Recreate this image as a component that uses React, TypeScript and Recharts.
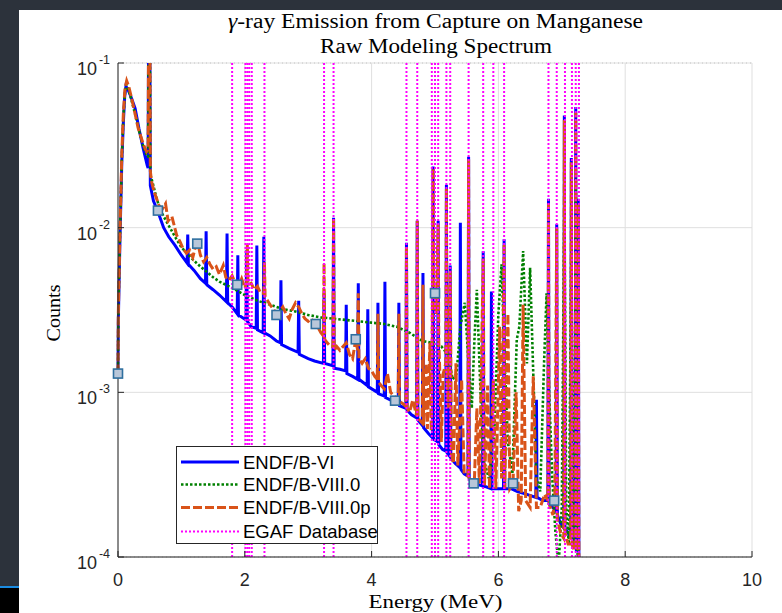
import { ComposedChart, Line, XAxis, YAxis, CartesianGrid, ReferenceLine } from "recharts";

// Energy (MeV), counts
const endf6: [number, number][] = [
  [0, 1.3e-3], [0.005, 2.7e-3], [0.03, 8.2e-3], [0.06, 2.5e-2], [0.085, 4.4e-2], [0.105, 6.2e-2],
  [0.125, 7.2e-2], [0.15, 7.0e-2], [0.2, 6.3e-2], [0.27, 5.3e-2], [0.33, 4.0e-2], [0.4, 3.0e-2],
  [0.46, 2.4e-2], [0.475, 2.3e-2], [0.485, 0.3], [0.5, 0.3], [0.51, 1.8e-2], [0.56, 1.45e-2],
  [0.63, 1.25e-2], [0.72, 1.0e-2], [0.8, 8.8e-3], [0.9, 7.8e-3], [1.0, 6.8e-3], [1.09, 6.1e-3],
  [1.1, 9.1e-3], [1.11, 6.0e-3], [1.2, 5.5e-3], [1.3, 4.9e-3], [1.38, 4.6e-3], [1.39, 9.5e-3],
  [1.4, 4.5e-3], [1.5, 4.2e-3], [1.6, 3.9e-3], [1.71, 3.55e-3], [1.72, 9.2e-3], [1.73, 3.5e-3],
  [1.8, 3.3e-3], [1.88, 3.0e-3], [1.89, 6.8e-3], [1.9, 2.95e-3], [2.02, 2.75e-3], [2.03, 7.3e-3],
  [2.04, 2.7e-3], [2.1, 2.5e-3], [2.18, 2.45e-3], [2.19, 7.8e-3], [2.2, 2.4e-3], [2.29, 2.3e-3],
  [2.3, 8.8e-3], [2.31, 2.3e-3], [2.4, 2.2e-3], [2.5, 2.05e-3], [2.56, 2.0e-3], [2.57, 4.8e-3],
  [2.58, 1.95e-3], [2.7, 1.85e-3], [2.84, 1.75e-3], [2.85, 3.6e-3], [2.86, 1.7e-3], [3.0, 1.6e-3],
  [3.1, 1.55e-3], [3.24, 1.5e-3], [3.25, 4.0e-3], [3.26, 1.5e-3], [3.39, 1.45e-3], [3.4, 1.15e-2],
  [3.41, 1.4e-3], [3.5, 1.38e-3], [3.59, 1.35e-3], [3.6, 3.4e-3], [3.61, 1.3e-3], [3.7, 1.25e-3],
  [3.78, 1.2e-3], [3.79, 4.6e-3], [3.8, 1.2e-3], [3.93, 1.1e-3], [3.94, 3.2e-3], [3.95, 1.08e-3],
  [4.09, 1.0e-3], [4.1, 3.5e-3], [4.11, 9.8e-4], [4.2, 9.5e-4], [4.21, 4.7e-3], [4.22, 9.3e-4],
  [4.32, 8.9e-4], [4.42, 8.5e-4], [4.43, 3.5e-3], [4.44, 8.3e-4], [4.54, 8.0e-4], [4.55, 8.1e-3],
  [4.56, 7.8e-4], [4.63, 7.3e-4], [4.71, 7.0e-4], [4.72, 1.1e-2], [4.73, 6.8e-4], [4.8, 6.3e-4],
  [4.81, 5.3e-3], [4.82, 6.1e-4], [4.9, 5.6e-4], [4.96, 5.3e-4], [4.97, 2.35e-2], [4.98, 5.2e-4],
  [5.04, 5.0e-4], [5.05, 1.1e-2], [5.06, 4.8e-4], [5.12, 4.5e-4], [5.17, 4.4e-4], [5.18, 1.82e-2],
  [5.19, 4.3e-4], [5.23, 4.1e-4], [5.24, 5.9e-3], [5.25, 4.0e-4], [5.32, 3.7e-4], [5.39, 3.5e-4],
  [5.4, 1.07e-2], [5.41, 3.4e-4], [5.46, 3.2e-4], [5.52, 3.1e-4], [5.53, 2.7e-2], [5.54, 3.0e-4],
  [5.62, 2.8e-4], [5.75, 2.7e-4], [5.76, 7.2e-3], [5.77, 2.7e-4], [5.88, 2.6e-4], [5.89, 4.1e-3],
  [5.9, 2.6e-4], [6.0, 2.6e-4], [6.08, 2.6e-4], [6.09, 8.5e-3], [6.1, 2.6e-4], [6.2, 2.6e-4],
  [6.3, 2.5e-4], [6.45, 2.4e-4], [6.59, 2.3e-4], [6.6, 9.0e-4], [6.61, 2.3e-4], [6.7, 2.2e-4],
  [6.78, 2.2e-4], [6.79, 1.5e-2], [6.8, 2.1e-4], [6.86, 2.0e-4], [6.91, 1.9e-4], [6.92, 1.05e-2],
  [6.93, 1.8e-4], [6.98, 1.6e-4], [7.03, 1.5e-4], [7.04, 4.8e-2], [7.05, 1.5e-4], [7.1, 1.4e-4],
  [7.14, 1.3e-4], [7.15, 2.65e-2], [7.16, 1.3e-4], [7.19, 1.2e-4], [7.21, 1.2e-4], [7.22, 5.4e-2],
  [7.23, 1.1e-4], [7.25, 1.1e-4], [7.26, 1.5e-2], [7.27, 1.0e-4], [7.29, 3e-5],
];

const endf8: [number, number][] = [
  [0, 1.3e-3], [0.005, 2.9e-3], [0.03, 8.6e-3], [0.06, 2.6e-2], [0.085, 4.7e-2], [0.11, 6.6e-2],
  [0.13, 7.4e-2], [0.16, 7.0e-2], [0.21, 6.0e-2], [0.27, 4.9e-2], [0.33, 3.9e-2], [0.4, 3.1e-2],
  [0.46, 2.7e-2], [0.475, 2.7e-2], [0.485, 0.3], [0.5, 0.3], [0.51, 2.1e-2], [0.55, 1.85e-2],
  [0.6, 1.55e-2], [0.66, 1.3e-2], [0.72, 1.17e-2], [0.8, 1.03e-2], [0.9, 8.8e-3], [1.0, 7.6e-3],
  [1.1, 6.9e-3], [1.2, 6.3e-3], [1.3, 5.8e-3], [1.4, 5.4e-3], [1.5, 5.0e-3], [1.6, 4.7e-3],
  [1.7, 4.5e-3], [1.8, 4.3e-3], [1.9, 4.1e-3], [2.0, 3.9e-3], [2.1, 3.75e-3], [2.2, 3.6e-3],
  [2.3, 3.5e-3], [2.4, 3.4e-3], [2.5, 3.3e-3], [2.6, 3.2e-3], [2.8, 3.1e-3], [3.0, 2.95e-3],
  [3.2, 2.85e-3], [3.4, 2.8e-3], [3.6, 2.75e-3], [3.8, 2.7e-3], [4.0, 2.65e-3], [4.2, 2.6e-3],
  [4.4, 2.5e-3], [4.6, 2.3e-3], [4.8, 2.05e-3], [4.95, 2.0e-3], [5.1, 1.9e-3], [5.2, 1.7e-3],
  [5.28, 1.2e-3], [5.34, 1.3e-3], [5.4, 2.5e-3], [5.47, 3.5e-3], [5.53, 1.5e-3], [5.58, 8.0e-4],
  [5.62, 2.0e-3], [5.66, 4.2e-3], [5.71, 1.2e-3], [5.76, 4.0e-4], [5.85, 3.0e-4], [5.93, 5.0e-4],
  [6.0, 3.0e-3], [6.05, 6.0e-3], [6.1, 1.5e-3], [6.15, 5.0e-4], [6.22, 3.2e-4], [6.29, 2.1e-3],
  [6.33, 2.5e-3], [6.39, 7.2e-3], [6.45, 1.5e-3], [6.5, 5.7e-3], [6.55, 1.3e-3], [6.6, 3.0e-4],
  [6.66, 2.5e-4], [6.72, 1.5e-3], [6.76, 4.0e-3], [6.8, 1.0e-3], [6.85, 3.0e-4], [6.9, 1.4e-4],
  [6.95, 9.0e-5], [7.0, 2.0e-4], [7.04, 1.5e-2], [7.07, 2.0e-4], [7.11, 1.2e-4], [7.15, 8.0e-3],
  [7.18, 1.5e-4], [7.2, 1.2e-4], [7.22, 2.0e-2], [7.25, 1.0e-4], [7.28, 5.0e-5],
];

const endf8p: [number, number][] = [
  [0, 1.3e-3], [0.005, 3.0e-3], [0.03, 9.0e-3], [0.06, 2.8e-2], [0.085, 5.0e-2], [0.11, 7.0e-2],
  [0.137, 7.8e-2], [0.17, 7.2e-2], [0.215, 6.1e-2], [0.27, 4.9e-2], [0.32, 4.0e-2], [0.4, 3.2e-2],
  [0.45, 2.9e-2], [0.475, 3.0e-2], [0.485, 0.3], [0.5, 0.3], [0.51, 2.2e-2], [0.53, 1.9e-2],
  [0.57, 1.65e-2], [0.61, 1.5e-2], [0.65, 1.35e-2], [0.7, 1.3e-2], [0.75, 1.4e-2], [0.79, 1.1e-2],
  [0.85, 1.17e-2], [0.925, 9.0e-3], [0.98, 8.2e-3], [1.03, 7.4e-3], [1.08, 7.0e-3], [1.13, 7.3e-3],
  [1.18, 6.6e-3], [1.22, 7.6e-3], [1.26, 8.0e-3], [1.3, 6.8e-3], [1.35, 6.2e-3], [1.4, 6.6e-3],
  [1.45, 6.0e-3], [1.5, 5.6e-3], [1.55, 5.8e-3], [1.6, 5.2e-3], [1.66, 5.9e-3], [1.7, 5.0e-3],
  [1.75, 4.8e-3], [1.8, 5.1e-3], [1.85, 4.6e-3], [1.9, 4.4e-3], [1.95, 4.9e-3], [2.0, 4.3e-3],
  [2.03, 4.6e-3], [2.04, 7.9e-3], [2.05, 4.5e-3], [2.1, 4.6e-3], [2.15, 4.2e-3], [2.2, 4.4e-3],
  [2.25, 4.0e-3], [2.3, 4.0e-3], [2.31, 6.2e-3], [2.32, 3.8e-3], [2.36, 3.6e-3], [2.4, 3.4e-3],
  [2.45, 3.2e-3], [2.5, 3.0e-3], [2.55, 3.1e-3], [2.6, 3.3e-3], [2.65, 3.0e-3], [2.7, 2.8e-3],
  [2.75, 3.2e-3], [2.8, 3.5e-3], [2.85, 3.3e-3], [2.9, 3.0e-3], [2.95, 2.8e-3], [3.0, 2.7e-3],
  [3.05, 2.8e-3], [3.1, 2.6e-3], [3.15, 2.5e-3], [3.2, 2.3e-3], [3.24, 2.2e-3], [3.25, 6.1e-3],
  [3.26, 2.1e-3], [3.3, 2.0e-3], [3.35, 1.9e-3], [3.39, 1.9e-3], [3.4, 1.15e-2], [3.41, 1.8e-3],
  [3.45, 1.9e-3], [3.5, 1.8e-3], [3.55, 1.9e-3], [3.6, 2.0e-3], [3.65, 1.7e-3], [3.7, 1.6e-3],
  [3.75, 2.1e-3], [3.78, 1.8e-3], [3.79, 4.0e-3], [3.8, 1.6e-3], [3.85, 1.5e-3], [3.9, 1.6e-3],
  [3.95, 1.4e-3], [4.0, 1.35e-3], [4.05, 1.25e-3], [4.09, 1.2e-3], [4.1, 3.0e-3], [4.11, 1.15e-3],
  [4.15, 1.1e-3], [4.2, 1.05e-3], [4.25, 1.3e-3], [4.3, 1.0e-3], [4.35, 9.5e-4], [4.42, 9.0e-4],
  [4.43, 3.0e-3], [4.44, 8.8e-4], [4.5, 8.5e-4], [4.54, 8.2e-4], [4.55, 7.7e-3], [4.56, 8.0e-4],
  [4.6, 7.6e-4], [4.65, 9.0e-4], [4.71, 7.2e-4], [4.72, 1.1e-2], [4.73, 7.0e-4], [4.77, 6.7e-4],
  [4.8, 6.5e-4], [4.81, 4.5e-3], [4.82, 6.3e-4], [4.86, 1.5e-3], [4.88, 6.0e-4], [4.92, 2.0e-3],
  [4.94, 5.8e-4], [4.96, 3.5e-3], [4.97, 2.3e-2], [4.98, 3.2e-3], [5.0, 3.5e-3], [5.02, 3.0e-3],
  [5.05, 1.05e-2], [5.06, 2.0e-3], [5.08, 1.2e-3], [5.1, 5.0e-4], [5.13, 1.3e-3], [5.17, 1.5e-3],
  [5.18, 1.75e-2], [5.19, 1.2e-3], [5.21, 8.0e-4], [5.24, 5.5e-3], [5.26, 4.2e-4], [5.29, 3.7e-4],
  [5.33, 1.5e-3], [5.36, 3.6e-4], [5.42, 1.2e-3], [5.46, 3.2e-4], [5.52, 3.1e-4], [5.53, 2.6e-2],
  [5.54, 3.0e-4], [5.58, 2.9e-4], [5.62, 2.8e-4], [5.66, 8.0e-4], [5.7, 2.8e-4], [5.76, 6.5e-3],
  [5.78, 2.7e-4], [5.83, 1.1e-3], [5.86, 2.6e-4], [5.92, 1.2e-3], [5.96, 2.6e-4], [6.02, 2.5e-3],
  [6.05, 3.0e-4], [6.09, 8.0e-3], [6.1, 2.6e-4], [6.15, 3.0e-3], [6.18, 2.6e-4], [6.23, 2.8e-4],
  [6.28, 1.0e-3], [6.32, 1.9e-4], [6.36, 2.2e-4], [6.39, 3.4e-3], [6.43, 2.2e-4], [6.5, 2.0e-4],
  [6.55, 1.25e-3], [6.6, 2.0e-4], [6.66, 2.0e-4], [6.73, 2.4e-4], [6.78, 2.2e-4], [6.79, 1.4e-2],
  [6.8, 2.1e-4], [6.86, 1.8e-4], [6.89, 2.2e-4], [6.92, 1.0e-2], [6.93, 1.7e-4], [6.98, 1.4e-4],
  [7.03, 1.3e-4], [7.04, 4.5e-2], [7.05, 1.4e-4], [7.1, 1.2e-4], [7.14, 1.2e-4], [7.15, 2.5e-2],
  [7.16, 1.2e-4], [7.19, 1.1e-4], [7.21, 1.1e-4], [7.22, 5.0e-2], [7.23, 1.1e-4], [7.25, 1.1e-4],
  [7.26, 1.4e-2], [7.27, 1.0e-4], [7.29, 3e-5],
];

// square markers along the spectrum
const markerPts: [number, number][] = [
  [0.0, 1.3e-3], [0.63, 1.27e-2], [1.25, 8.0e-3], [1.88, 4.5e-3], [2.5, 2.95e-3], [3.12, 2.6e-3],
  [3.75, 2.1e-3], [4.37, 8.9e-4], [5.0, 4.0e-3], [5.61, 2.8e-4], [6.23, 2.8e-4], [6.88, 2.2e-4],
];

// EGAF database gamma energies (MeV)
const egafLines = [
  1.8, 2.01, 2.04, 2.07, 2.11, 2.31, 3.25, 3.4, 4.55, 4.72, 4.95, 5.0, 5.05, 5.18, 5.24, 5.53,
  5.76, 5.92, 6.09, 6.79, 6.92, 7.05, 7.16, 7.22, 7.27,
];

const xTicks = [0, 2, 4, 6, 8, 10];
const yTicks = [1e-4, 1e-3, 1e-2, 1e-1];
const yMinor = [
  2e-4, 3e-4, 4e-4, 5e-4, 6e-4, 7e-4, 8e-4, 9e-4,
  2e-3, 3e-3, 4e-3, 5e-3, 6e-3, 7e-3, 8e-3, 9e-3,
  2e-2, 3e-2, 4e-2, 5e-2, 6e-2, 7e-2, 8e-2, 9e-2,
];

const SANS = "'Liberation Sans', Arial, Helvetica, sans-serif";
const SERIF = "'Liberation Serif', 'Times New Roman', serif";
const INK = "#262626";

const series = [
  { name: "ENDF/B-VI", pts: endf6, color: "#0000ff", dash: undefined as string | undefined, width: 3 },
  { name: "ENDF/B-VIII.0", pts: endf8, color: "#008000", dash: "2.5 2", width: 2.6 },
  { name: "ENDF/B-VIII.0p", pts: endf8p, color: "#d95319", dash: "9 3", width: 3 },
];

const legendItems = [
  ...series.map((s) => ({ name: s.name, color: s.color, dash: s.dash, width: s.width })),
  { name: "EGAF Database", color: "#ff00ff", dash: "2 2", width: 2 },
];

const toRows = (pts: [number, number][]) => pts.map(([e, v]) => ({ e, v }));

const DecadeTick = (props: any) => {
  const { x, y, payload } = props;
  const exp = Math.round(Math.log10(payload.value));
  return (
    <g style={{ fontFamily: SANS }} fill={INK}>
      <text x={x - 13} y={y + 12} textAnchor="end" fontSize={18}>10</text>
      <text x={x} y={y + 1} textAnchor="end" fontSize={12.5}>{exp}</text>
    </g>
  );
};

const XTick = (props: any) => {
  const { x, y, payload } = props;
  return (
    <text x={x} y={y + 29} textAnchor="middle" fontSize={18} style={{ fontFamily: SANS }} fill={INK}>
      {payload.value}
    </text>
  );
};

const SquareDot = (props: any) => {
  const { cx, cy, index } = props;
  if (cx == null || cy == null) return <g key={index} />;
  return (
    <rect key={index} x={cx - 4.5} y={cy - 4.5} width={9} height={9}
      fill="#b9c7d9" stroke="#2f6f9f" strokeWidth={1.6} />
  );
};

const App = () => {
  const legendRowY = [462, 484.5, 507.5, 531.5];
  return (
    <div style={{ position: "absolute", left: 0, top: 0, width: 782, height: 613, background: "#2c323b", overflow: "hidden" }}>
      <div style={{ position: "absolute", left: 19, top: 10, width: 763, height: 603, background: "#ffffff" }} />
      <div style={{ position: "absolute", left: 0, top: 586, width: 19, height: 2, background: "#1b8be0" }} />
      <div style={{ position: "absolute", left: 0, top: 588, width: 19, height: 25, background: "#000000" }} />
      <div style={{ position: "absolute", left: 0, top: 0 }}>
        <ComposedChart width={782} height={613} margin={{ top: 63, right: 30, bottom: 16, left: 58 }}>
          <CartesianGrid stroke="#dfdfdf" />
          <CartesianGrid yAxisId="lm" vertical={false} stroke="#c4c4c4" strokeDasharray="1 3" />
          <XAxis dataKey="e" type="number" domain={[0, 10]} ticks={xTicks} height={40}
            tickSize={-6} tickMargin={6} axisLine={{ stroke: INK }} tickLine={{ stroke: INK }} tick={XTick} />
          <XAxis xAxisId="t" orientation="top" mirror dataKey="e" type="number" domain={[0, 10]}
            ticks={xTicks} height={0} tickSize={6} tick={false}
            axisLine={{ stroke: INK }} tickLine={{ stroke: INK }} />
          <YAxis type="number" scale="log" domain={[1e-4, 1e-1]} allowDataOverflow ticks={yTicks}
            width={60} tickSize={-6} tickMargin={14} tick={DecadeTick}
            axisLine={{ stroke: INK }} tickLine={{ stroke: INK }} />
          <YAxis yAxisId="lm" mirror type="number" scale="log" domain={[1e-4, 1e-1]} ticks={yMinor}
            width={0} tickSize={3} tick={false} axisLine={false} tickLine={{ stroke: INK }} />
          <YAxis yAxisId="r" orientation="right" mirror type="number" scale="log" domain={[1e-4, 1e-1]}
            ticks={yTicks} width={0} tickSize={6} tick={false}
            axisLine={{ stroke: INK }} tickLine={{ stroke: INK }} />
          <YAxis yAxisId="rm" orientation="right" mirror type="number" scale="log" domain={[1e-4, 1e-1]}
            ticks={yMinor} width={0} tickSize={3} tick={false} axisLine={false} tickLine={{ stroke: INK }} />
          {series.map((s) => (
            <Line key={s.name} data={toRows(s.pts)} dataKey="v" name={s.name} type="linear"
              stroke={s.color} strokeWidth={s.width} strokeDasharray={s.dash} dot={false}
              isAnimationActive={false} />
          ))}
          {egafLines.map((x) => (
            <ReferenceLine key={x} x={x} stroke="#ff00ff" strokeWidth={2} strokeDasharray="2 2" />
          ))}
          <Line data={toRows(markerPts)} yAxisId="lm" dataKey="v" stroke="none" dot={SquareDot}
            activeDot={false} legendType="none" isAnimationActive={false} />
        </ComposedChart>
      </div>
      <svg width={782} height={613} style={{ position: "absolute", left: 0, top: 0, pointerEvents: "none" }}>
        <g style={{ fontFamily: SERIF }} fill="#000">
          <text x={435.5} y={28} textAnchor="middle" fontSize={20} textLength={415} lengthAdjust="spacingAndGlyphs">
            <tspan fontStyle="italic">γ</tspan>-ray Emission from Capture on Manganese
          </text>
          <text x={436} y={53} textAnchor="middle" fontSize={20} textLength={232} lengthAdjust="spacingAndGlyphs">
            Raw Modeling Spectrum
          </text>
          <text x={435.5} y={608} textAnchor="middle" fontSize={19} textLength={134} lengthAdjust="spacingAndGlyphs">
            Energy (MeV)
          </text>
          <text transform="translate(60 313) rotate(-90)" textAnchor="middle" fontSize={19} textLength={57} lengthAdjust="spacingAndGlyphs">
            Counts
          </text>
        </g>
        <rect x={176.5} y={446.5} width={201} height={97} fill="#ffffff" stroke={INK} strokeWidth={1} />
        {legendItems.map((it, i) => (
          <g key={it.name}>
            <line x1={181} x2={239} y1={legendRowY[i]} y2={legendRowY[i]} stroke={it.color}
              strokeWidth={it.width} strokeDasharray={it.dash} />
            <text x={243} y={legendRowY[i] + 6.5} fontSize={18.5} style={{ fontFamily: SANS }} fill="#000">{it.name}</text>
          </g>
        ))}
      </svg>
    </div>
  );
};

export default App;
